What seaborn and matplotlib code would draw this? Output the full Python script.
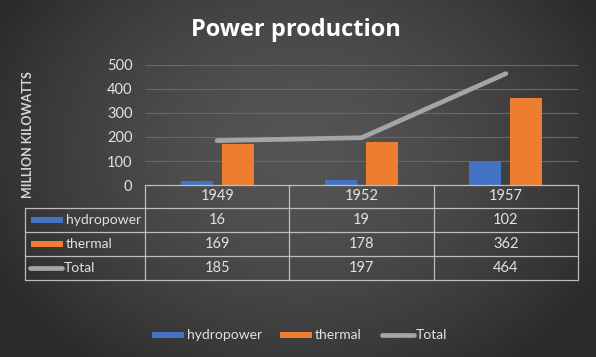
import numpy as np
import pandas as pd
import matplotlib
matplotlib.use("Agg")
import matplotlib.pyplot as plt
from matplotlib.patches import Rectangle
import seaborn as sns

years = ["1949", "1952", "1957"]
hydropower = [16, 19, 102]
thermal = [169, 178, 362]
total = [185, 197, 464]
series_names = ["hydropower", "thermal", "Total"]

BLUE = "#4472C4"
ORANGE = "#ED7D31"
GRAY = "#A5A5A5"
TXT = "#E2E2E2"
EDGE = "#BDBDBD"

sns.set_theme(style="dark")
plt.rcParams["font.family"] = ["Lato", "DejaVu Sans"]

W, H = 596, 357
fig = plt.figure(figsize=(W / 100, H / 100), dpi=100)

# radial dark background
bg = fig.add_axes([0, 0, 1, 1], zorder=-5)
xx, yy = np.meshgrid(np.linspace(0, W, 300), np.linspace(0, H, 180))
r = np.sqrt(((xx - 300) / 330) ** 2 + ((yy - 150) / 260) ** 2)
shade = np.clip(0.33 - 0.15 * r ** 1.6, 0.17, 0.34)
bg.imshow(shade, cmap="gray", vmin=0, vmax=1, extent=(0, W, H, 0), aspect="auto")
bg.set_xlim(0, W)
bg.set_ylim(H, 0)
bg.axis("off")

# main plot area
ax = fig.add_axes([145 / W, 1 - 185 / H, 433 / W, 120 / H])
ax.set_facecolor("none")
df = pd.DataFrame({
    "year": years * 2,
    "source": ["hydropower"] * 3 + ["thermal"] * 3,
    "value": hydropower + thermal,
})
sns.barplot(data=df, x="year", y="value", hue="source", order=years,
            palette=[BLUE, ORANGE], width=0.57, gap=0.22, saturation=1,
            edgecolor="none", linewidth=0, legend=False, ax=ax)
sns.pointplot(x=years, y=total, order=years, color=GRAY, markers="",
              linewidth=3.4, ax=ax)
ax.lines[-1].set_solid_capstyle("round")
ax.set_xlim(-0.5, 2.5)
ax.set_ylim(0, 500)
ax.set_yticks(range(0, 501, 100))
ax.yaxis.grid(True, color="#686868", lw=0.8)
ax.xaxis.grid(False)
ax.set_axisbelow(True)
for s in ax.spines.values():
    s.set_visible(False)
ax.set_xticklabels([])
ax.set_xlabel("")
ax.set_ylabel("")
ax.tick_params(axis="y", length=0, pad=9, labelsize=10.5, labelcolor=TXT)
ax.tick_params(axis="x", length=0)

fig.text(296 / W, 1 - 30 / H, "Power production", ha="center", va="center",
         fontsize=17, fontweight="bold", color="white", family="Open Sans")
fig.text(28 / W, 1 - 135 / H, "MILLION KILOWATTS", rotation=90, ha="center",
         va="center", fontsize=9, fontweight="bold", color="#D6D6D6")

# data table drawn in pixel coordinates
tab = fig.add_axes([0, 0, 1, 1], zorder=3)
tab.set_xlim(0, W)
tab.set_ylim(H, 0)
tab.axis("off")

col_edges = [145, 289.3, 433.7, 578]
row_edges = [185, 208, 232, 256, 280]
tab.plot([145, 578], [185, 185], color=EDGE, lw=0.9)
for y in row_edges[1:]:
    tab.plot([25, 578], [y, y], color=EDGE, lw=0.9)
tab.plot([25, 25], [208, 280], color=EDGE, lw=0.9)
for x in col_edges:
    tab.plot([x, x], [185, 280], color=EDGE, lw=0.9)

centers = [(a + b) / 2 for a, b in zip(col_edges[:-1], col_edges[1:])]
row_mid = [(a + b) / 2 for a, b in zip(row_edges[:-1], row_edges[1:])]
for cx, yr in zip(centers, years):
    tab.text(cx, row_mid[0], yr, ha="center", va="center", fontsize=10.5, color=TXT)
for ry, vals in zip(row_mid[1:], [hydropower, thermal, total]):
    for cx, v in zip(centers, vals):
        tab.text(cx, ry, str(v), ha="center", va="center", fontsize=10.5, color=TXT)


def key(x0, y, name, color, line=False):
    if line:
        tab.plot([x0 + 1, x0 + 33], [y, y], color=color, lw=3.4,
                 solid_capstyle="round")
    else:
        tab.add_patch(Rectangle((x0, y - 3), 32, 6, color=color, lw=0))
    tab.text(x0 + 35, y, name, ha="left", va="center", fontsize=10, color=TXT)


key(31, row_mid[1], series_names[0], BLUE)
key(31, row_mid[2], series_names[1], ORANGE)
key(29, row_mid[3], series_names[2], GRAY, line=True)

key(152, 335, series_names[0], BLUE)
key(280, 335, series_names[1], ORANGE)
key(381, 335, series_names[2], GRAY, line=True)

fig.savefig("out.png", dpi=100)
